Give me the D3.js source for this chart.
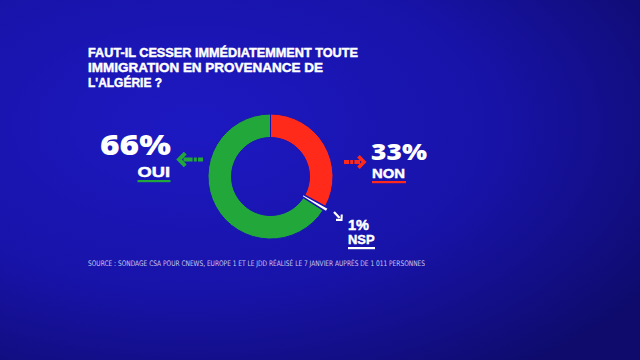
<!DOCTYPE html>
<html><head><meta charset="utf-8">
<script src="https://cdn.jsdelivr.net/npm/d3@7/dist/d3.min.js"></script>
<style>html,body{margin:0;padding:0;background:#150fa0;}svg{display:block;}</style>
</head><body>
<svg id="c" width="640" height="360"></svg>
<script>
const titleLines = ["FAUT-IL CESSER IMMÉDIATEMMENT TOUTE", "IMMIGRATION EN PROVENANCE DE", "L'ALGÉRIE ?"];
const categories = ["NON", "NSP", "OUI"];
const values = [33, 1, 66];
const colors = ["#ff2a1a", "#ffffff", "#22a83a"];
const source = "SOURCE : SONDAGE CSA POUR CNEWS, EUROPE 1 ET LE JDD RÉALISÉ LE 7 JANVIER AUPRÈS DE 1 011 PERSONNES";

const svg = d3.select("#c");
const defs = svg.append("defs");
const g = defs.append("radialGradient").attr("id","bg").attr("cx","0.3").attr("cy","0.35").attr("r","0.85");
g.append("stop").attr("offset","0").attr("stop-color","#1d19c2");
g.append("stop").attr("offset","0.55").attr("stop-color","#1813a8");
g.append("stop").attr("offset","1").attr("stop-color","#0e0b6c");
svg.append("rect").attr("width",640).attr("height",360).attr("fill","url(#bg)");
const bgCol = "#1a15b4";

const font = "'Liberation Sans', Arial, sans-serif";
const fontBig = "'Open Sans', 'Liberation Sans', sans-serif";

// title
const tWidths = [270, 235, 74];
svg.selectAll("text.title").data(titleLines).enter().append("text").attr("class","title")
  .attr("x", 88).attr("y", (d,i)=>57 + i*15)
  .attr("fill","#fff").attr("stroke","#fff").attr("stroke-width",0.45)
  .attr("font-family",font).attr("font-weight",700)
  .attr("font-size",13.2)
  .attr("textLength",(d,i)=>tWidths[i]).attr("lengthAdjust","spacingAndGlyphs")
  .text(d=>d);

// donut
const cx = 270.5, cy = 176.5;
const pie = d3.pie().sort(null).value(d=>d.v)(categories.map((c,i)=>({c, v: values[i], col: colors[i]})));
const arc = d3.arc().innerRadius(39).outerRadius(62.5);
const arcN = d3.arc().innerRadius(37).outerRadius(66);
const dg = svg.append("g").attr("transform",`translate(${cx},${cy})`);
dg.selectAll("path").data(pie.filter(d=>d.data.c!=="NSP")).enter().append("path")
  .attr("d",arc).attr("fill",d=>d.data.col).attr("stroke",bgCol).attr("stroke-width",1);
dg.selectAll("path.nsp").data(pie.filter(d=>d.data.c==="NSP")).enter().append("path")
  .attr("class","nsp").attr("d",arcN).attr("fill","#fff").attr("stroke",bgCol).attr("stroke-width",1.6);

// labels
function label(pctX, pctY, pctSize, pctW, pctFont, pctStroke, nameX, nameY, nameSize, nameW, i, ulCol, ulW){
  svg.append("text").attr("fill","#fff").attr("stroke","#fff").attr("stroke-width",pctStroke)
    .attr("font-family",pctFont).attr("font-weight",800)
    .attr("x",pctX).attr("y",pctY).attr("font-size",pctSize)
    .attr("textLength",pctW).attr("lengthAdjust","spacingAndGlyphs").text(values[i]+"%");
  svg.append("text").attr("fill","#fff").attr("stroke","#fff").attr("stroke-width",0.45)
    .attr("font-family",font).attr("font-weight",700)
    .attr("x",nameX).attr("y",nameY).attr("font-size",nameSize)
    .attr("textLength",nameW).attr("lengthAdjust","spacingAndGlyphs").text(categories[i]);
  svg.append("rect").attr("x",nameX).attr("y",nameY+3.5).attr("width",ulW).attr("height",2.2).attr("fill",ulCol);
}
label(100, 155, 28, 71, fontBig, 0, 137.5, 176.5, 14.5, 32.5, 2, colors[2], 33);
label(371, 159.5, 23, 56, fontBig, 0, 372, 177.5, 13.5, 33, 0, colors[0], 34);
label(348, 229.5, 15.5, 21, font, 0.5, 348, 243.5, 13, 26.5, 1, "#fff", 27);

// arrows
function arrow(x1, y1, x2, y2, col, head, w, dashed){
  const a = svg.append("g").attr("stroke",col).attr("fill","none").attr("stroke-linecap","butt");
  const ang = Math.atan2(y2-y1, x2-x1);
  const hx = x2 - Math.cos(ang)*head*0.5, hy = y2 - Math.sin(ang)*head*0.5;
  a.append("line").attr("x1",x1).attr("y1",y1).attr("x2",hx).attr("y2",hy)
    .attr("stroke-width",w).attr("stroke-dasharray",dashed?"5,1.2,3,1.2,20":null);
  const p1 = [x2 - Math.cos(ang-0.8)*head, y2 - Math.sin(ang-0.8)*head];
  const p2 = [x2 - Math.cos(ang+0.8)*head, y2 - Math.sin(ang+0.8)*head];
  a.append("path").attr("d",`M${p1}L${x2},${y2}L${p2}`).attr("stroke-width",w*0.95).attr("stroke-linejoin","miter");
}
arrow(203, 159.5, 179, 159.5, colors[2], 9, 4.2, true);
arrow(344, 162, 364, 162, colors[0], 8, 3.8, true);
arrow(334, 212, 341.5, 220, "#fff", 5.5, 2.2, false);

// source
svg.append("text").attr("x",88).attr("y",266).attr("fill","#c9c8ee").attr("font-family","'Liberation Sans Narrow', 'DejaVu Sans Condensed', sans-serif")
  .attr("font-size",7.6).attr("textLength",337).attr("lengthAdjust","spacingAndGlyphs").text(source);
</script>
</body></html>
